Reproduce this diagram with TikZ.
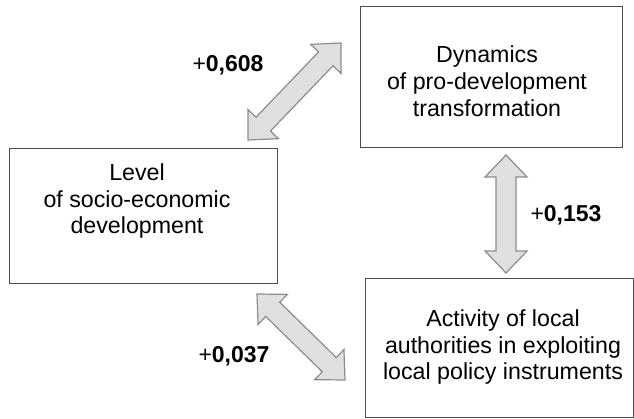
\documentclass[tikz,border=0pt]{standalone}
\usepackage{fontspec}
\setmainfont{Liberation Sans}
\usetikzlibrary{calc}

\tikzset{
  box/.style={draw=black!70, line width=1pt, inner sep=0pt},
  boxtext/.style={align=center, font=\fontsize{23.2}{26.8}\selectfont, text=black},
  corr/.style={font=\fontsize{23}{26.8}\selectfont},
  dblarrow/.style={draw=black!45, fill=black!12, line width=1.2pt, line join=miter},
}

% block double arrow between two named points
\newcommand{\bothways}[2]{%
  \draw[dblarrow] (#1)
    -- ($(#1)!22pt!(#2)!21pt!90:(#2)$)
    -- ($(#1)!22pt!(#2)!10pt!90:(#2)$)
    -- ($(#2)!22pt!(#1)!10pt!-90:(#1)$)
    -- ($(#2)!22pt!(#1)!21pt!-90:(#1)$)
    -- (#2)
    -- ($(#2)!22pt!(#1)!21pt!90:(#1)$)
    -- ($(#2)!22pt!(#1)!10pt!90:(#1)$)
    -- ($(#1)!22pt!(#2)!10pt!-90:(#2)$)
    -- ($(#1)!22pt!(#2)!21pt!-90:(#2)$)
    -- cycle;}

\begin{document}
\begin{tikzpicture}[x=1pt,y=-1pt]
        \useasboundingbox (0,0) rectangle (634,418);

        % boxes
        \node [box, minimum width=268pt, minimum height=135pt] (level) at (143,215.5) {};
        \node [box, minimum width=262pt, minimum height=141pt] (dynamics) at (491,76.5) {};
        \node [box, minimum width=268pt, minimum height=139pt] (activity) at (499,347.5) {};

        \node [boxtext] (leveltext) at (137,201) {Level\\of socio-economic\\development};
        \node [boxtext] (dynamicstext) at (487,81) {Dynamics\\of pro-development\\transformation};
        \node [boxtext] (activitytext) at (503,347) {Activity of local\\authorities in exploiting\\local policy instruments};

        % arrow ends
        \coordinate (ld1) at (248,140);
        \coordinate (ld2) at (341,43);
        \coordinate (da1) at (506,155);
        \coordinate (da2) at (506,273);
        \coordinate (la1) at (257,294);
        \coordinate (la2) at (345,380);

        \bothways{ld1}{ld2}
        \bothways{da1}{da2}
        \bothways{la1}{la2}

        \node [corr] (r1) at (228,65) {+\textbf{0,608}};
        \node [corr] (r2) at (566,215) {+\textbf{0,153}};
        \node [corr] (r3) at (234,356) {+\textbf{0,037}};

      \end{tikzpicture}
\end{document}
